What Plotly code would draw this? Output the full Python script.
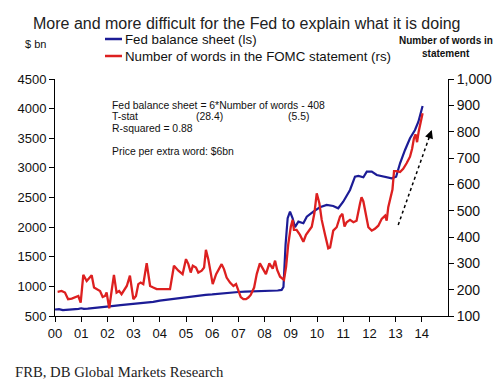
import plotly.graph_objects as go

# ---- data ----
fed_dates = [2000.00, 2000.15, 2000.30, 2000.45, 2000.60, 2000.75, 2000.90, 2001.00, 2001.10, 2001.25,
             2001.50, 2001.75, 2002.00, 2002.25, 2002.50, 2002.75, 2003.00, 2003.25, 2003.50, 2003.75,
             2004.00, 2004.25, 2004.50, 2004.75, 2005.00, 2005.25, 2005.50, 2005.75, 2006.00, 2006.25,
             2006.50, 2006.75, 2007.00, 2007.25, 2007.50, 2007.75, 2008.00, 2008.25, 2008.50, 2008.65,
             2008.72, 2008.80, 2008.88, 2008.97, 2009.07, 2009.16, 2009.29, 2009.48, 2009.61, 2009.86,
             2010.11, 2010.37, 2010.62, 2010.81, 2011.00, 2011.26, 2011.45, 2011.58, 2011.77, 2011.90,
             2012.09, 2012.28, 2012.47, 2012.66, 2012.85, 2013.02, 2013.17, 2013.36, 2013.55, 2013.74,
             2013.87, 2014.03]
fed_balance = [610, 615, 600, 605, 600, 612, 620, 630, 620, 625,
               640, 650, 660, 672, 685, 695, 705, 715, 725, 738,
               760, 775, 790, 805, 818, 835, 848, 858, 865, 878,
               888, 896, 905, 910, 912, 915, 922, 920, 930, 940,
               990, 1700, 2150, 2261, 2150, 2000, 2092, 2065, 2176, 2261,
               2335, 2374, 2357, 2318, 2429, 2627, 2851, 2863, 2841, 2936,
               2936, 2880, 2863, 2851, 2824, 2851, 3078, 3302, 3500, 3640,
               3780, 4045]

word_dates = [2000.10, 2000.25, 2000.38, 2000.50, 2000.64, 2000.76, 2000.89, 2000.98, 2001.08, 2001.21,
              2001.31, 2001.40, 2001.49, 2001.59, 2001.72, 2001.82, 2001.91, 2001.97, 2002.07, 2002.16,
              2002.25, 2002.35, 2002.45, 2002.54, 2002.63, 2002.74, 2002.86, 2002.99, 2003.09, 2003.18,
              2003.27, 2003.37, 2003.50, 2003.63, 2003.75, 2003.88, 2004.00, 2004.20, 2004.39, 2004.54,
              2004.71, 2004.87, 2005.00, 2005.09, 2005.18, 2005.26, 2005.38, 2005.47, 2005.60, 2005.69,
              2005.76, 2005.85, 2005.92, 2006.02, 2006.15, 2006.27, 2006.36, 2006.45, 2006.55, 2006.68,
              2006.81, 2006.91, 2007.00, 2007.09, 2007.19, 2007.29, 2007.38, 2007.47, 2007.60, 2007.70,
              2007.82, 2007.95, 2008.05, 2008.18, 2008.31, 2008.40, 2008.48, 2008.59, 2008.69, 2008.74,
              2008.82, 2008.90, 2009.00, 2009.07, 2009.12, 2009.22, 2009.35, 2009.48, 2009.58, 2009.71,
              2009.80, 2009.90, 2009.99, 2010.09, 2010.18, 2010.31, 2010.43, 2010.50, 2010.62, 2010.75,
              2010.88, 2010.97, 2011.05, 2011.13, 2011.26, 2011.39, 2011.51, 2011.64, 2011.70, 2011.77,
              2011.87, 2011.96, 2012.09, 2012.21, 2012.34, 2012.47, 2012.60, 2012.66, 2012.72, 2012.81,
              2012.88, 2012.94, 2013.04, 2013.17, 2013.29, 2013.42, 2013.55, 2013.63, 2013.70, 2013.76,
              2013.82, 2013.88, 2013.95, 2014.03]
fomc_words = [192, 195, 189, 164, 166, 170, 176, 151, 256, 233,
              246, 255, 208, 202, 195, 172, 176, 189, 129, 195,
              256, 189, 195, 183, 195, 214, 253, 164, 176, 221,
              227, 221, 301, 214, 208, 202, 202, 202, 202, 291,
              272, 259, 316, 297, 265, 291, 284, 265, 272, 284,
              351, 316, 272, 221, 259, 284, 297, 278, 246, 227,
              214, 221, 195, 172, 164, 164, 170, 180, 208, 259,
              300, 278, 259, 300, 280, 310, 275, 249, 243, 237,
              287, 370, 439, 465, 427, 427, 408, 382, 408, 427,
              439, 490, 566, 528, 465, 408, 357, 360, 424, 437,
              478, 488, 440, 456, 465, 456, 462, 526, 551, 535,
              488, 437, 424, 431, 443, 469, 481, 462, 513, 551,
              580, 650, 650, 647, 659, 680, 705, 735, 775, 790,
              760, 800, 840, 870]

year_ticks = list(range(2000, 2015))
year_labels = ["%02d" % (y - 2000) for y in year_ticks]

series_names = ["Fed balance sheet (ls)", "Number of words in the FOMC statement (rs)"]

arrow_start = (2013.1, 446)
arrow_end = (2014.38, 806)

BLUE = "#1c1c96"
RED = "#dd2020"
FONT = "Liberation Sans, Arial, sans-serif"

# plot-area geometry in pixels
L, R, T, B = 55, 448, 79, 316
W, H = 504, 392

def px_x(x):
    return (x - L) / float(R - L)

def px_y(y):
    return (B - y) / float(B - T)

fig = go.Figure()
fig.add_trace(go.Scatter(x=fed_dates, y=fed_balance, mode="lines",
                         name=series_names[0], showlegend=False,
                         line=dict(color=BLUE, width=2.2)))
fig.add_trace(go.Scatter(x=word_dates, y=fomc_words, mode="lines",
                         name=series_names[1], showlegend=False,
                         line=dict(color=RED, width=2.3), yaxis="y2"))

# dotted arrow
fig.add_shape(type="line", xref="x", yref="y2",
              x0=arrow_start[0], y0=arrow_start[1], x1=arrow_end[0], y1=arrow_end[1],
              line=dict(color="black", width=1.5, dash="dot"))
fig.add_annotation(x=arrow_end[0], y=arrow_end[1], xref="x", yref="y2",
                   ax=-3.3, ay=9.4, text="", showarrow=True,
                   arrowhead=2, arrowsize=1.1, arrowwidth=1.5, arrowcolor="black", standoff=0)

def px_ann(text, x_px, y_px, xanchor="left", font=None):
    if font is None:
        font = dict(family=FONT, size=10.4, color="#111")
    fig.add_annotation(text=text, xref="paper", yref="paper",
                       x=px_x(x_px), y=px_y(y_px),
                       xanchor=xanchor, yanchor="middle", showarrow=False, font=font)

# title
px_ann("More and more difficult for the Fed to explain what it is doing", 246, 23,
       xanchor="center", font=dict(family=FONT, size=16, color="#222"))

# legend (manual)
for name, color, yy in [(series_names[0], BLUE, 39), (series_names[1], RED, 56)]:
    fig.add_shape(type="line", xref="paper", yref="paper",
                  x0=px_x(105), x1=px_x(122), y0=px_y(yy), y1=px_y(yy),
                  line=dict(color=color, width=2.5))
    px_ann(name, 123, yy, font=dict(family=FONT, size=13.3, color="#111"))

# regression text
px_ann("Fed balance sheet = 6*Number of words - 408", 110, 105)
px_ann("T-stat", 110, 116.7)
px_ann("(28.4)", 194, 116.7)
px_ann("(5.5)", 311, 116.7, xanchor="right")
px_ann("R-squared = 0.88", 110, 128.3)
px_ann("Price per extra word: $6bn", 110, 151.7)

# axis titles
px_ann("$ bn", 35, 44, xanchor="center", font=dict(family=FONT, size=11, color="#111"))
px_ann("<b>Number of words in</b>", 446, 40, xanchor="center", font=dict(family=FONT, size=10, color="#111"))
px_ann("<b>statement</b>", 446, 53, xanchor="center", font=dict(family=FONT, size=10, color="#111"))

# source
px_ann("FRB, DB Global Markets Research", 13, 372,
       font=dict(family="Liberation Serif, serif", size=14.7, color="#222"))

axis_common = dict(showline=True, linecolor="black", linewidth=1, ticks="outside",
                   ticklen=5, tickcolor="black", showgrid=False, zeroline=False, automargin=False)

fig.update_layout(
    width=W, height=H,
    margin=dict(l=L, r=W - R, t=T, b=H - B, autoexpand=False),
    paper_bgcolor="white", plot_bgcolor="white",
    font=dict(family=FONT, color="#111"),
    showlegend=False,
    xaxis=dict(range=[2000, 2015], tickvals=year_ticks, ticktext=year_labels,
               tickfont=dict(size=13, family=FONT, color="#111"), **axis_common),
    yaxis=dict(range=[500, 4500], dtick=500, tickfont=dict(size=13, family=FONT, color="#111"),
               **axis_common),
    yaxis2=dict(range=[100, 1000], dtick=100, tickformat=",", overlaying="y", side="right",
                tickfont=dict(size=14, family=FONT, color="#111"), **axis_common),
)

fig.write_html("out.html", config={"displayModeBar": False},
               post_script="document.body.style.margin='0';")
